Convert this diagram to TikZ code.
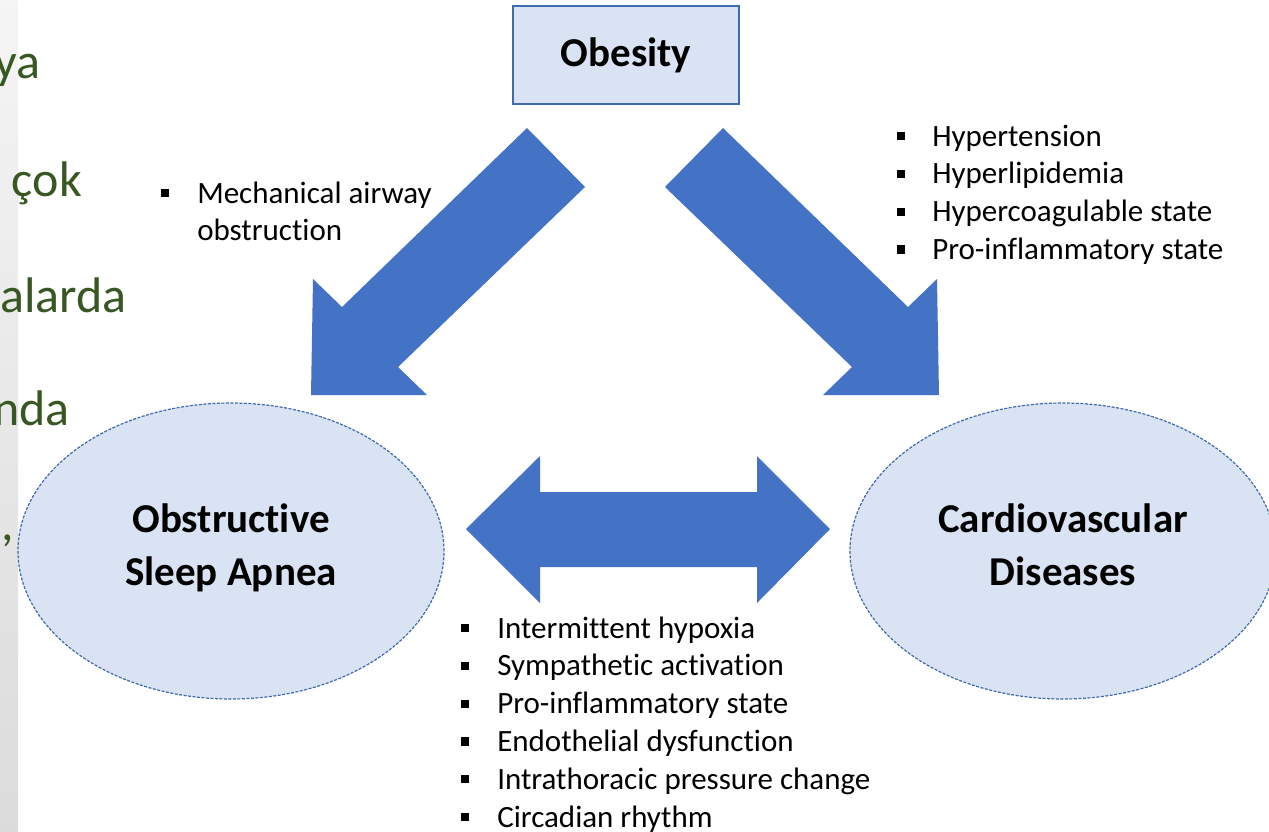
\documentclass[tikz,border=0pt]{standalone}
\usepackage{fontspec}
\setmainfont{Carlito}[RawFeature=-liga]
\usepackage{xcolor}
\usetikzlibrary{shapes.geometric}
\usetikzlibrary{positioning}

\definecolor{arrowblue}{HTML}{4472C4}
\definecolor{paleblue}{HTML}{DAE3F3}
\definecolor{edgeblue}{HTML}{3E6AB0}
\definecolor{slidegreen}{HTML}{385723}
\newcommand{\sqmark}{\rule[0.19em]{0.26em}{0.26em}}

\begin{document}
\begin{tikzpicture}[x=1pt, y=-1pt,
	bluebox/.style={draw=edgeblue, line width=2pt, fill=paleblue, minimum width=226pt, minimum height=98pt, font=\fontsize{41}{53}\selectfont\bfseries},
	blueoval/.style={ellipse, draw=edgeblue, line width=1.2pt, dash pattern=on 3pt off 1.5pt, fill=paleblue, minimum width=426pt, minimum height=296pt, align=center, inner sep=0pt, text depth=12pt, font=\fontsize{41}{53}\selectfont\bfseries},
	blockarrow/.style={fill=arrowblue},
	itemlist/.style={inner sep=0pt, anchor=base west, font=\fontsize{31}{37.8}\selectfont},
	slideword/.style={inner sep=0pt, anchor=base east, text=slidegreen, font=\fontsize{50}{60}\selectfont}]
		\clip (0,0) rectangle (1269,831);
		\fill[white] (0,0) rectangle (1269,831);
		%
		%Folienrand links
		\shade[top color=white!96!black, bottom color=black!14] (0,0) rectangle (18,831);
		%
		%Folientext (abgeschnitten)
		\node[slideword] (w1) at (41,78) {ya};
		\node[slideword] (w2) at (82,196) {çok};
		\node[slideword] (w3) at (127,312) {alarda};
		\node[slideword] (w4) at (70,425) {nda};
		\node[slideword] (w5) at (14,540) {,};
		%
		%Obesity
		\node[bluebox] (obesity) at (626,55) {Obesity};
		%
		%OSA
		\node[blueoval] (osa) at (231,551) {Obstructive\\Sleep Apnea};
		%
		%CVD
		\node[blueoval] (cvd) at (1063,551) {Cardiovascular\\Diseases};
		%
		%Pfeil Obesity - OSA
		\fill[blockarrow] (527,128) -- (585,187) -- (398,367) -- (427,395) -- (311,395) -- (313,279) -- (342,307) -- cycle;
		%
		%Pfeil Obesity - CVD
		\fill[blockarrow] (723,128) -- (665,187) -- (852,367) -- (823,395) -- (939,395) -- (937,279) -- (908,307) -- cycle;
		%
		%Doppelpfeil OSA - CVD
		\fill[blockarrow] (466,529) -- (540,456) -- (540,492) -- (757,492) -- (757,456) -- (830,529) -- (757,603) -- (757,567) -- (540,567) -- (540,603) -- cycle;
		%
		%Liste links
		\node[itemlist] (mech) at (161,203) {\begin{tabular}[t]{@{}l@{\hspace{28pt}}l@{}}
			\sqmark & Mechanical airway\\
			 & obstruction
		\end{tabular}};
		%
		%Liste rechts
		\node[itemlist] (obeslist) at (897,146) {\begin{tabular}[t]{@{}l@{\hspace{27pt}}l@{}}
			\sqmark & Hypertension\\
			\sqmark & Hyperlipidemia\\
			\sqmark & Hypercoagulable state\\
			\sqmark & Pro-inflammatory state
		\end{tabular}};
		%
		%Liste unten
		\node[itemlist] (osalist) at (461,638) {\begin{tabular}[t]{@{}l@{\hspace{28pt}}l@{}}
			\sqmark & Intermittent hypoxia\\
			\sqmark & Sympathetic activation\\
			\sqmark & Pro-inflammatory state\\
			\sqmark & Endothelial dysfunction\\
			\sqmark & Intrathoracic pressure change\\
			\sqmark & Circadian rhythm
		\end{tabular}};
\end{tikzpicture}
\end{document}
